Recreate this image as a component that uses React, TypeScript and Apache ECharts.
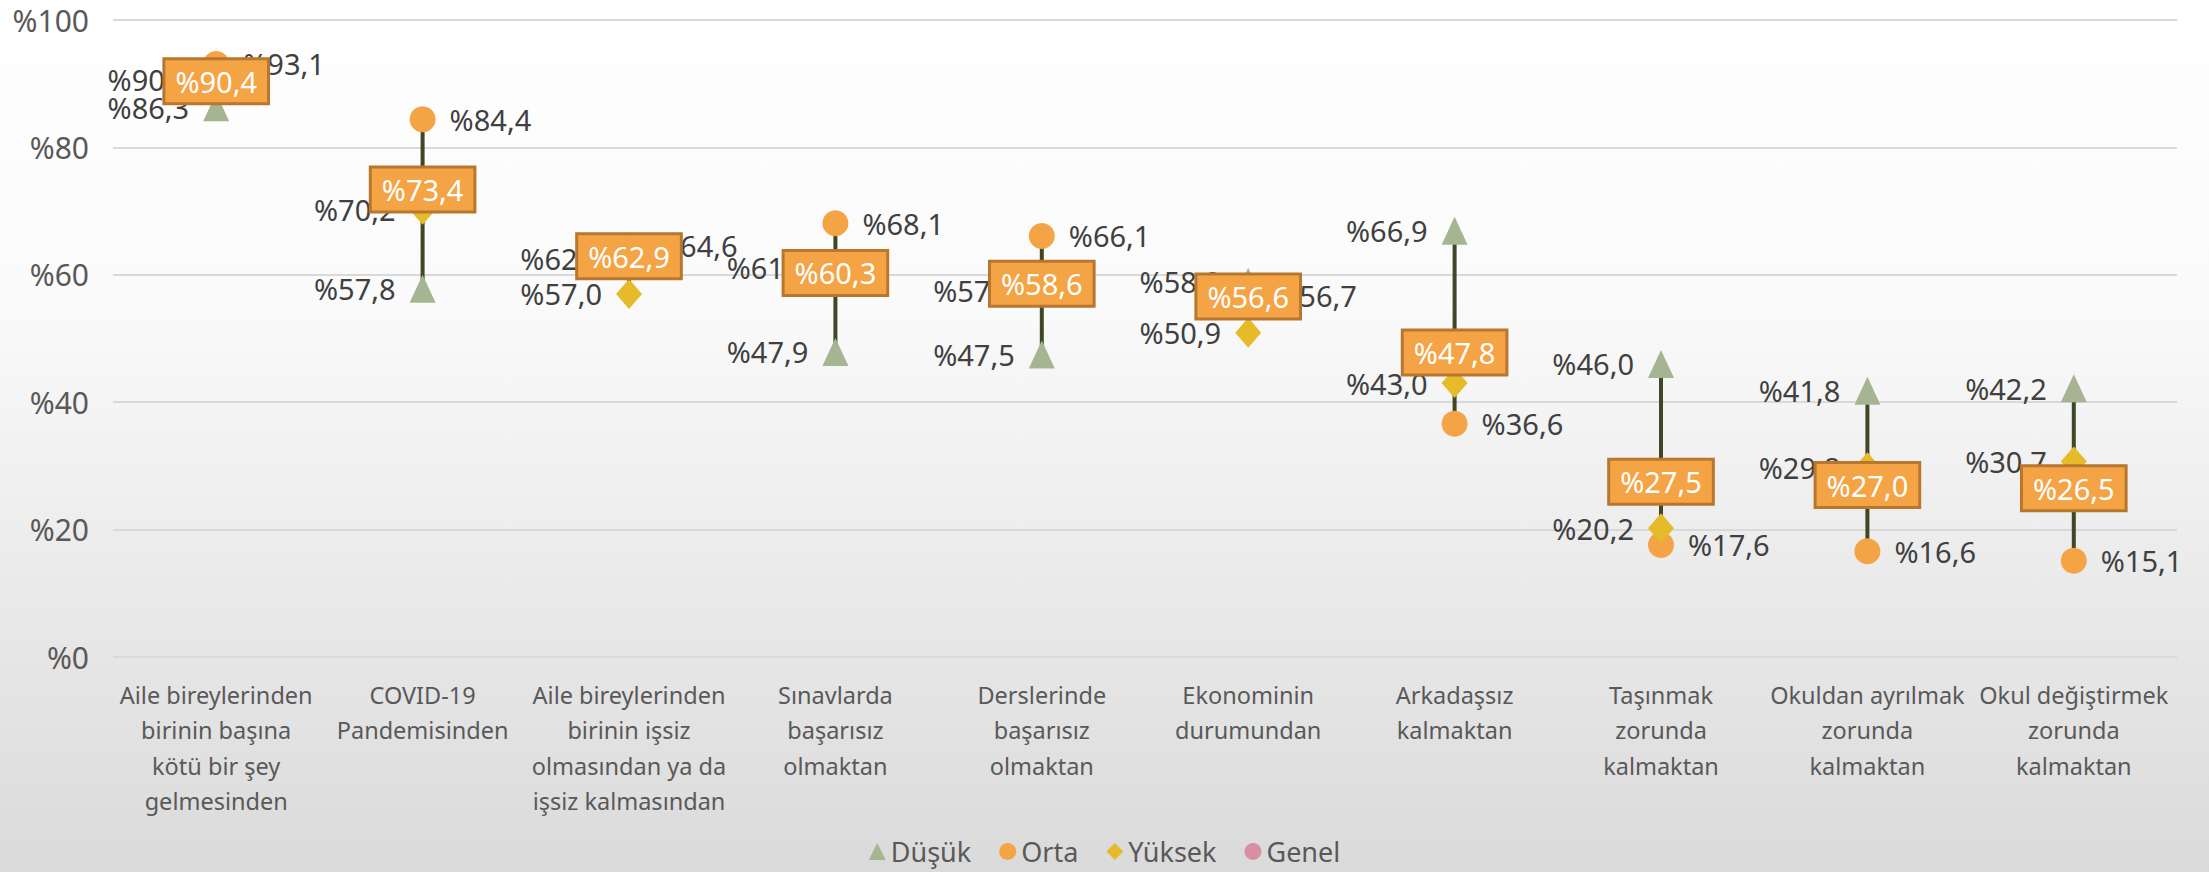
import React, { useEffect, useRef } from "react";
import * as echarts from "echarts";

const categories = [
  "Aile bireylerinden\nbirinin başına\nkötü bir şey\ngelmesinden",
  "COVID-19\nPandemisinden",
  "Aile bireylerinden\nbirinin işsiz\nolmasından ya da\nişsiz kalmasından",
  "Sınavlarda\nbaşarısız\nolmaktan",
  "Derslerinde\nbaşarısız\nolmaktan",
  "Ekonominin\ndurumundan",
  "Arkadaşsız\nkalmaktan",
  "Taşınmak\nzorunda\nkalmaktan",
  "Okuldan ayrılmak\nzorunda\nkalmaktan",
  "Okul değiştirmek\nzorunda\nkalmaktan",
];
const dusuk = [86.3, 57.8, 62.5, 47.9, 47.5, 58.9, 66.9, 46.0, 41.8, 42.2];
const orta = [93.1, 84.4, 64.6, 68.1, 66.1, 56.7, 36.6, 17.6, 16.6, 15.1];
const yuksek = [90.6, 70.2, 57.0, 61.2, 57.5, 50.9, 43.0, 20.2, 29.8, 30.7];
const genel = [90.4, 73.4, 62.9, 60.3, 58.6, 56.6, 47.8, 27.5, 27.0, 26.5];
const yTicks = { min: 0, max: 100, interval: 20 };

const FONT = "Noto Sans";
const fmt = (v: number) => "%" + v.toFixed(1).replace(".", ",");

export default function App() {
  const ref = useRef<HTMLDivElement>(null);
  useEffect(() => {
    document.body.style.margin = "0";
    const chart = echarts.init(ref.current!, null, { renderer: "svg" });
    const ranges = categories.map((_, i) => {
      const vals = [dusuk[i], orta[i], yuksek[i], genel[i]];
      return [i, Math.min(...vals), Math.max(...vals)];
    });
    const sideLabel = (pos: string) => ({
      show: true,
      position: pos,
      distance: 14,
      color: "#404040",
      fontSize: 29,
      fontFamily: FONT,
      formatter: (p: any) => fmt(p.value),
    });
    chart.setOption({
      animation: false,
      backgroundColor: new echarts.graphic.LinearGradient(0, 0, 0, 1, [
        { offset: 0, color: "#ffffff" },
        { offset: 0.35, color: "#fafafa" },
        { offset: 1, color: "#dadada" },
      ]),
      textStyle: { fontFamily: FONT },
      grid: { left: 113, right: 32, top: 20, bottom: 215 },
      legend: {
        bottom: 2,
        left: "center",
        itemWidth: 17,
        itemHeight: 17,
        itemGap: 28,
        textStyle: { fontSize: 27, color: "#595959", fontFamily: FONT },
        data: [
          { name: "Düşük", icon: "triangle" },
          { name: "Orta", icon: "circle" },
          { name: "Yüksek", icon: "diamond" },
          { name: "Genel", icon: "circle" },
        ],
      },
      xAxis: {
        type: "category",
        data: categories,
        axisLine: { show: false },
        axisTick: { show: false },
        axisLabel: {
          interval: 0,
          margin: 20,
          fontSize: 23.5,
          lineHeight: 35.5,
          color: "#595959",
          fontFamily: FONT,
        },
      },
      yAxis: {
        type: "value",
        min: yTicks.min,
        max: yTicks.max,
        interval: yTicks.interval,
        axisLabel: {
          fontSize: 30,
          color: "#595959",
          margin: 24,
          fontFamily: FONT,
          formatter: (v: number) => "%" + v,
        },
        splitLine: { lineStyle: { color: "#d9d9d9", width: 2 } },
      },
      series: [
        {
          type: "custom",
          z: 1,
          silent: true,
          data: ranges,
          encode: { x: 0, y: [1, 2] },
          renderItem: (_p: any, api: any) => {
            const lo = api.coord([api.value(0), api.value(1)]);
            const hi = api.coord([api.value(0), api.value(2)]);
            return {
              type: "line",
              shape: { x1: lo[0], y1: lo[1], x2: hi[0], y2: hi[1] },
              style: { stroke: "#3f4724", lineWidth: 4 },
            };
          },
        },
        {
          name: "Düşük",
          type: "scatter",
          z: 2,
          symbol: "triangle",
          symbolSize: [26, 28],
          itemStyle: { color: "#a5b592", opacity: 1 },
          label: sideLabel("left"),
          data: dusuk,
        },
        {
          name: "Orta",
          type: "scatter",
          z: 2,
          symbol: "circle",
          symbolSize: 26,
          itemStyle: { color: "#f4a345", opacity: 1 },
          label: sideLabel("right"),
          data: orta,
        },
        {
          name: "Yüksek",
          type: "scatter",
          z: 2,
          symbol: "diamond",
          symbolSize: [26, 30],
          itemStyle: { color: "#e6bb2a", opacity: 1 },
          label: sideLabel("left"),
          data: yuksek,
        },
        {
          name: "Genel",
          type: "scatter",
          z: 5,
          symbol: "circle",
          symbolSize: 14,
          itemStyle: { color: "#d88fa4", opacity: 1 },
          label: {
            show: true,
            position: "inside",
            color: "#ffffff",
            fontSize: 29,
            fontFamily: FONT,
            backgroundColor: "#f4a345",
            borderColor: "#b8772f",
            borderWidth: 3,
            padding: [8, 10, 5, 10],
            formatter: (p: any) => fmt(p.value),
          },
          data: genel,
        },
      ],
    });
    return () => chart.dispose();
  }, []);
  return <div ref={ref} style={{ width: 2209, height: 872 }} />;
}
